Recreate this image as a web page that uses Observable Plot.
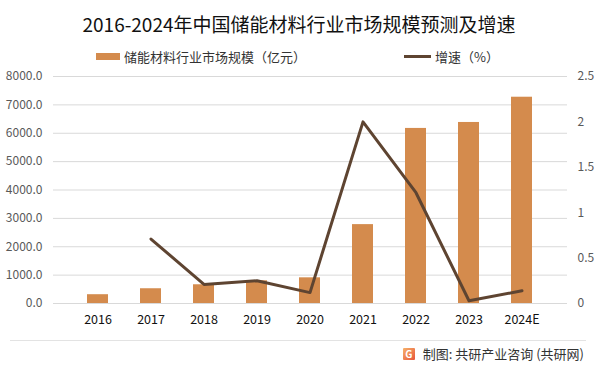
<!DOCTYPE html>
<html>
<head>
<meta charset="utf-8">
<script src="https://cdn.jsdelivr.net/npm/d3@7"></script>
<script src="https://cdn.jsdelivr.net/npm/@observablehq/plot@0.6"></script>
<style>
  html, body { margin: 0; padding: 0; background: #fff; }
  #wrap { position: relative; width: 598px; height: 370px; overflow: hidden; font-family: "Noto Sans CJK SC", "Noto Sans", sans-serif; }
  #title { position: absolute; left: 0; width: 598px; top: 10px; text-align: center; font-size: 19px; color: #111; line-height: 28px; }
  .leg { position: absolute; top: 48px; font-size: 13px; color: #333; line-height: 18px; white-space: nowrap; }
  .sw { display: inline-block; vertical-align: middle; margin-right: 4px; position: relative; top: -2px; }
  #chart { position: absolute; left: 0; top: 60px; }
  #sep { position: absolute; left: 10px; width: 576px; top: 340px; height: 1px; background: #e3e3e3; }
  #foot { position: absolute; right: 14px; top: 344px; font-size: 13px; color: #333; line-height: 20px; white-space: nowrap; }
  #logo { display: inline-block; width: 12px; height: 12px; background: linear-gradient(135deg, #f6b26b, #e8553a); color: #fff; font-size: 10px; line-height: 12px; text-align: center; font-weight: bold; margin-right: 8px; vertical-align: middle; position: relative; top: -1px; border-radius: 1px; }
</style>
</head>
<body>
<div id="wrap">
  <div id="title">2016-2024年中国储能材料行业市场规模预测及增速</div>
  <div class="leg" style="left:96px"><span class="sw" style="width:24px;height:7px;background:#D48B4D"></span>储能材料行业市场规模（亿元）</div>
  <div class="leg" style="left:404px"><span class="sw" style="width:27px;height:3px;background:#5E4431"></span>增速（%）</div>
  <div id="chart"></div>
  <div id="sep"></div>
  <div id="foot"><span id="logo">G</span>制图: 共研产业咨询 (共研网)</div>
</div>
<script>
const years = ["2016", "2017", "2018", "2019", "2020", "2021", "2022", "2023", "2024E"];
const marketSize = [310, 520, 660, 800, 905, 2780, 6170, 6380, 7270];
const growth = [null, 0.71, 0.21, 0.25, 0.12, 2.0, 1.22, 0.03, 0.14];
const leftTicks = [0, 1000, 2000, 3000, 4000, 5000, 6000, 7000, 8000];
const rightTicks = [0, 0.5, 1, 1.5, 2, 2.5];

const ratio = 8000 / 2.5;
const barData = years.map((y, i) => ({year: y, value: marketSize[i]}));
const lineData = years.map((y, i) => ({year: y, g: growth[i]})).filter(d => d.g != null);

const chart = Plot.plot({
  width: 598,
  height: 280,
  marginTop: 16,
  marginBottom: 37,
  marginLeft: 53,
  marginRight: 31,
  style: {fontFamily: "\"Noto Sans CJK SC\", sans-serif", fontSize: "12px", background: "transparent"},
  x: {domain: years, padding: 0.6, label: null},
  y: {domain: [0, 8000], label: null},
  marks: [
    Plot.gridY(leftTicks, {stroke: "#D9D9D9", strokeOpacity: 1, strokeWidth: 1}),
    Plot.axisY(leftTicks, {anchor: "left", tickSize: 0, tickPadding: 11, tickFormat: d => d.toFixed(1), fill: "#595959", fontSize: 12, label: null}),
    Plot.axisY(rightTicks.map(d => d * ratio), {anchor: "right", tickSize: 0, tickPadding: 10, tickFormat: d => String(+(d / ratio).toFixed(1)), fill: "#595959", fontSize: 12, label: null}),
    Plot.axisX({tickSize: 0, tickPadding: 12, fill: "#111", fontSize: 12.5, label: null}),
    Plot.barY(barData, {x: "year", y: "value", fill: "#D48B4D"}),
    Plot.line(lineData, {x: "year", y: d => d.g * ratio, stroke: "#5E4431", strokeWidth: 3, strokeLinejoin: "round"})
  ]
});
document.getElementById("chart").appendChild(chart);
</script>
</body>
</html>
